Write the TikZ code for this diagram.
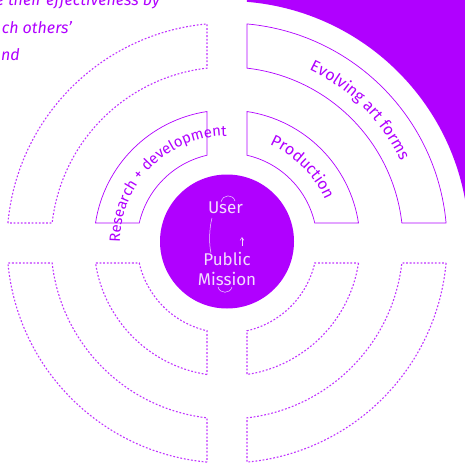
\documentclass[tikz,border=0pt]{standalone}
\usepackage{fontspec}
\setmainfont{Fira Sans}
\usepackage{xcolor}
\usepackage{tikz}
\usetikzlibrary{positioning, decorations.text, arrows.meta}

\definecolor{mainpurple}{HTML}{B000FF}
\definecolor{lilac}{HTML}{F3DCFF}

% one quarter ring, cut back 20pt from both axes
\newcommand{\ringpart}[4]{%
  \pgfmathsetmacro{\gapin}{asin(20/#2)}%
  \pgfmathsetmacro{\gapout}{asin(20/#3)}%
  \pgfmathsetmacro{\outstart}{#1+90-\gapout}%
  \pgfmathsetmacro{\outend}{#1+\gapout}%
  \pgfmathsetmacro{\instart}{#1+\gapin}%
  \pgfmathsetmacro{\inend}{#1+90-\gapin}%
  \draw[#4] (\outstart:#3pt) arc[start angle=\outstart, end angle=\outend, radius=#3pt]
    -- (\instart:#2pt) arc[start angle=\instart, end angle=\inend, radius=#2pt] -- cycle;}

\begin{document}
\begin{tikzpicture}[x=1pt, y=1pt,
    solidpart/.style={draw=mainpurple, line width=0.7pt},
    dashpart/.style={draw=mainpurple!80, line width=1.1pt, dash pattern=on 1.8pt off 1.8pt},
    arclabel/.style 2 args={decorate, decoration={text along path, text align=center,
        text={|\fontsize{#1}{19}\selectfont\color{mainpurple}|#2}}},
    quote/.style={inner sep=0pt, text=mainpurple, font=\fontsize{16}{19}\selectfont\itshape},
    coretext/.style={inner sep=0pt, text=lilac, font=\fontsize{17}{20}\selectfont},
    loopline/.style={draw=lilac, line width=0.5pt}]
    \clip (-227,-221) rectangle (238,243);

    % purple corner outside the rings
    \fill[mainpurple] (85.26:242pt) arc[start angle=85.26, end angle=4.74, radius=242pt]
        -- (260,20) -- (260,260) -- (20,260) -- cycle;

    % text cut off at the top left
    \node[quote, anchor=base east] (line1) at (-67,237) {e their effectiveness by};
    \node[quote, anchor=base east] (line2) at (-155,210) {ch others’};
    \node[quote, anchor=base east] (line3) at (-207,183) {nd};

    % the rings
    \ringpart{0}{90}{133}{solidpart}
    \ringpart{0}{176}{220}{solidpart}
    \ringpart{90}{90}{133}{solidpart}
    \ringpart{90}{176}{220}{dashpart}
    \ringpart{180}{90}{133}{dashpart}
    \ringpart{180}{176}{220}{dashpart}
    \ringpart{270}{90}{133}{dashpart}
    \ringpart{270}{176}{220}{dashpart}

    \path[arclabel={15}{Research + development}] (184:107pt) arc[start angle=184, end angle=86, radius=107pt];
    \path[arclabel={16}{Production}] (90:107pt) arc[start angle=90, end angle=0, radius=107pt];
    \path[arclabel={16}{Evolving art forms}] (90:192pt) arc[start angle=90, end angle=0, radius=192pt];

    % centre disc
    \node[circle, fill=mainpurple, minimum size=134pt, inner sep=0pt] (core) at (0,1.5) {};
    \draw[loopline] (-6,41) .. controls (-4,49) and (6,49) .. (8,42);
    \draw[loopline] (-15,25) .. controls (-18,14) and (-18,-2) .. (-16,-10);
    \draw[loopline] (-9,-44) .. controls (-7,-51) and (3,-51) .. (5,-44);
    \draw[loopline, -{Straight Barb[length=3pt, width=4pt]}] (15,-3) -- (15,6);
    \node[coretext, anchor=base] (user) at (-1.5,30) {User};
    \node[coretext, anchor=base] (public) at (0,-22) {Public};
    \node[coretext, anchor=base] (mission) at (0,-42) {Mission};
\end{tikzpicture}
\end{document}
